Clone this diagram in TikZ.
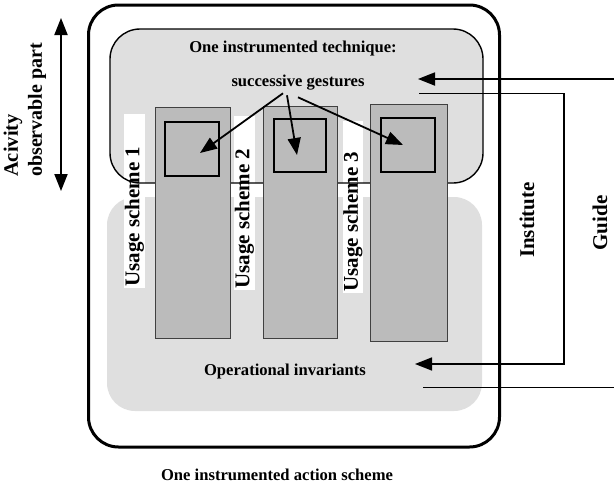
\documentclass[tikz,border=0pt]{standalone}
\usepackage{fontspec}
\setmainfont{Liberation Serif}
\usetikzlibrary{arrows.meta}
\definecolor{panelgray}{HTML}{DFDFDF}
\definecolor{colgray}{HTML}{BBBBBB}

\begin{document}
\begin{tikzpicture}[x=1pt,y=-1pt,
  panel/.style={fill=panelgray, inner sep=0pt, outer sep=0pt},
  column/.style={fill=colgray, draw=black!75, line width=0.9pt, inner sep=0pt, outer sep=0pt},
  gesture/.style={fill=colgray, draw=black, line width=1.4pt, inner sep=0pt, outer sep=0pt,
                  minimum width=54pt, minimum height=54pt},
  strip/.style={fill=white, inner sep=0pt, outer sep=0pt},
  label/.style={font=\bfseries\fontsize{16.6}{19}\selectfont, inner sep=0pt},
  sidelabel/.style={font=\bfseries\fontsize{21}{24}\selectfont, rotate=90, inner sep=0pt},
  tip/.style={-{Triangle[length=17pt,width=13pt]}},
  link/.style={line width=1.8pt},
]
\useasboundingbox (0,0) rectangle (614,485);

% outer frame: the instrumented action scheme
\node[draw, line width=3pt, rounded corners=30pt, inner sep=0pt,
      minimum width=411pt, minimum height=442pt] (outer) at (294,226) {};

% operational invariants panel
\node[panel, rounded corners=28pt, minimum width=375pt, minimum height=214pt] (inv) at (294.5,304) {};
% instrumented technique panel (fill only, outline drawn later)
\node[panel, rounded corners=30pt, minimum width=373pt, minimum height=154pt] (tech) at (296.5,106) {};

% white strips behind the usage scheme labels
\node[strip, minimum width=21pt, minimum height=174pt] (s1) at (134.5,201) {};
\node[strip, minimum width=21pt, minimum height=174pt] (s2) at (244.5,203) {};
\node[strip, minimum width=20pt, minimum height=172pt] (s3) at (353,207) {};

% technique panel outline
\draw[line width=1.4pt, rounded corners=30pt] (tech.south west) rectangle (tech.north east);

% usage scheme columns
\node[column, minimum width=75pt, minimum height=231pt] (c1) at (192.5,222.5) {};
\node[column, minimum width=74pt, minimum height=232pt] (c2) at (300,222) {};
\node[column, minimum width=77pt, minimum height=237pt] (c3) at (408.5,222.5) {};

% gestures
\node[gesture] (g1) at (192,149) {};
\node[gesture, minimum width=52pt, minimum height=53pt] (g2) at (300,145.5) {};
\node[gesture] (g3) at (408,145) {};

% usage scheme labels
\node[sidelabel, anchor=west] (u1) at ([shift={(0,-1)}]s1.south) {Usage scheme 1};
\node[sidelabel, anchor=west] (u2) at ([shift={(0,-1)}]s2.south) {Usage scheme 2};
\node[sidelabel, anchor=west] (u3) at ([shift={(0,-1)}]s3.south) {Usage scheme 3};

% panel texts
\node[label] (techtitle) at (293,49) {One instrumented technique:};
\node[label] (gest) at (298,83) {successive gestures};
\node[label] (invtitle) at (285,372) {Operational invariants};
\node[label] (scheme) at (277,475) {One instrumented action scheme};

% gesture arrows
\draw[link, tip] ([shift={(-15,2.5)}]gest.south) -- ([shift={(8,4)}]g1.center);
\draw[link, tip] ([shift={(-11,4.5)}]gest.south) -- ([shift={(-3,9.5)}]g2.center);
\draw[link, tip] ([shift={(0,6.5)}]gest.south) -- ([shift={(-5,0)}]g3.center);

% activity: observable part
\coordinate (actop) at (61,18);
\coordinate (acbot) at (61,191);
\draw[link, {Triangle[length=17pt,width=13pt]}-{Triangle[length=17pt,width=13pt]}] (actop) -- (acbot);
\node[sidelabel, font=\bfseries\fontsize{20.5}{24}\selectfont, anchor=west] (act1) at (13,177) {Acivity};
\node[sidelabel, font=\bfseries\fontsize{20}{24}\selectfont, anchor=west] (act2) at (37,177) {observable part};

% guide and institute connections
\coordinate (guidein) at (614,79);
\coordinate (techin) at (418,79);
\coordinate (techout) at (419,93.5);
\coordinate (instA) at (564,93.5);
\coordinate (instB) at (564,364);
\coordinate (invin) at (415,364);
\coordinate (invout) at (423,387.5);
\coordinate (guideout) at (614,387.5);

\draw[link, tip] (guidein) -- (techin);
\draw[line width=1.6pt, tip] (techout) -- (instA) -- (instB) -- (invin);
\draw[link] (invout) -- (guideout);

\node[sidelabel] (inst) at (527,220) {Institute};
\node[sidelabel] (guide) at (600,223) {Guide};
\end{tikzpicture}
\end{document}
